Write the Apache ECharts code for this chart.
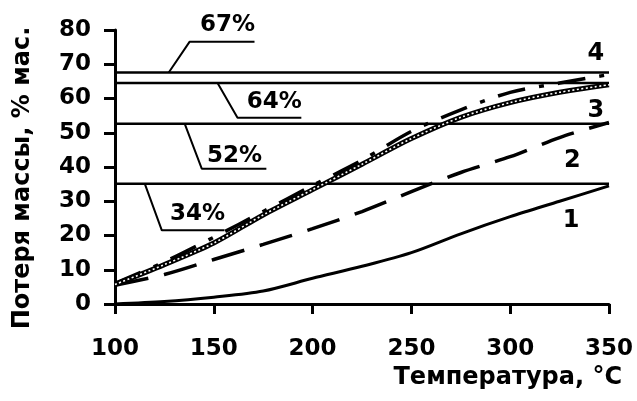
<!DOCTYPE html>
<html>
<head>
<meta charset="utf-8">
<script src="https://cdn.jsdelivr.net/npm/echarts@6/dist/echarts.min.js"></script>
<style>html,body{margin:0;padding:0;background:#fff}#c{width:637px;height:401px}</style>
</head>
<body>
<div id="c"></div>
<script>
const temps = [100,125,150,175,200,225,250,275,300,325,350];
const curve1 = [0,0.7,2,3.8,7.5,11,15,20.5,25.5,30,34.5];
const curve2 = [5.5,8.6,13,17.4,22,27,32.8,38.4,43,48.6,53];
const curve3 = [5.7,11.5,17.8,26,33.4,40.8,48.3,54.5,58.8,61.8,64];
const curve4 = [6,12.3,19.5,27,34.6,42,50.4,56.7,61.8,64.5,67];
const levelValues = [67.6,64.5,52.6,35.1];
const levelTexts = ['67%','64%','52%','34%'];
const calloutLines = [
  [[127.2,67.6],[137.8,76.6],[170.6,76.6]],
  [[151.9,64.5],[162,54.4],[194.3,54.4]],
  [[135.3,52.6],[143.9,39.5],[176.6,39.5]],
  [[115.1,35.1],[123.7,21.5],[155.4,21.5]]
];
const calloutTextPos = [[157,81.4],[180.6,59.0],[160.5,43.3],[141.8,26.4]];
const curveNames = ['1','2','3','4'];
const curveNamePos = [[330.8,24.4],[331.4,41.8],[343.4,56.4],[343.4,73.0]];
const xTicks = {min:100,max:350,interval:50};
const yTicks = {min:0,max:80,interval:10};

const F = 'DejaVu Sans';
const pair = arr => temps.map((t,i)=>[t,arr[i]]);
const series = [];
levelValues.forEach(v=>{
  series.push({type:'line',data:[[xTicks.min,v],[xTicks.max,v]],symbol:'none',
    lineStyle:{color:'#000',width:2.5},silent:true,z:2});
});
calloutLines.forEach(l=>{
  series.push({type:'line',data:l,symbol:'none',clip:false,
    lineStyle:{color:'#000',width:2},silent:true,z:2});
});
const textLabel = size => ({show:true,position:'inside',color:'#000',opacity:1,fontFamily:F,fontWeight:'bold',fontSize:size});
series.push({type:'scatter',symbolSize:1,clip:false,itemStyle:{opacity:0},
  data:calloutTextPos.map((p,i)=>({value:p,label:Object.assign(textLabel(23),{formatter:levelTexts[i]})})),
  z:5});
series.push({type:'scatter',symbolSize:1,clip:false,itemStyle:{opacity:0},
  data:curveNamePos.map((p,i)=>({value:p,label:Object.assign(textLabel(24),{formatter:curveNames[i]})})),
  z:5});
series.push({type:'line',data:pair(curve1),symbol:'none',smooth:0.3,
  lineStyle:{color:'#000',width:3},z:3});
series.push({type:'line',data:pair(curve2),symbol:'none',smooth:0.3,
  lineStyle:{color:'#000',width:3.5,type:[34,16]},z:3});
series.push({type:'line',data:pair(curve4),symbol:'none',smooth:0.3,
  lineStyle:{color:'#000',width:3.5,type:[28,14,5,14]},z:3});
series.push({type:'line',data:pair(curve3),symbol:'none',smooth:0.3,
  lineStyle:{color:'#000',width:5},z:4});
series.push({type:'line',data:pair(curve3),symbol:'none',smooth:0.3,
  lineStyle:{color:'#fff',width:1.6,type:[2,2.5]},z:4});

const chart = echarts.init(document.getElementById('c'),null,{renderer:'canvas'});
chart.setOption({
  animation:false,
  backgroundColor:'#fff',
  grid:{left:115,right:28,top:30,bottom:97,containLabel:false},
  xAxis:{type:'value',min:xTicks.min,max:xTicks.max,interval:xTicks.interval,
    name:'Температура, °C',nameLocation:'end',nameGap:13,
    nameTextStyle:{color:'#000',fontFamily:F,fontWeight:'bold',fontSize:24,align:'right',verticalAlign:'top',padding:[62,0,0,0]},
    axisLine:{lineStyle:{color:'#000',width:3}},
    axisTick:{show:true,inside:false,length:10,lineStyle:{color:'#000',width:3}},
    axisLabel:{color:'#000',fontFamily:F,fontWeight:'bold',fontSize:23,margin:34},
    splitLine:{show:false}},
  yAxis:{type:'value',min:yTicks.min,max:yTicks.max,interval:yTicks.interval,
    name:'Потеря массы, % мас.',nameLocation:'middle',nameGap:80,nameRotate:90,
    nameTextStyle:{color:'#000',fontFamily:F,fontWeight:'bold',fontSize:24,padding:[0,22,0,0]},
    axisLine:{show:true,lineStyle:{color:'#000',width:3}},
    axisTick:{show:true,inside:false,length:11,lineStyle:{color:'#000',width:3}},
    axisLabel:{color:'#000',fontFamily:F,fontWeight:'bold',fontSize:23,margin:24},
    splitLine:{show:false}},
  series:series
});
</script>
</body>
</html>
